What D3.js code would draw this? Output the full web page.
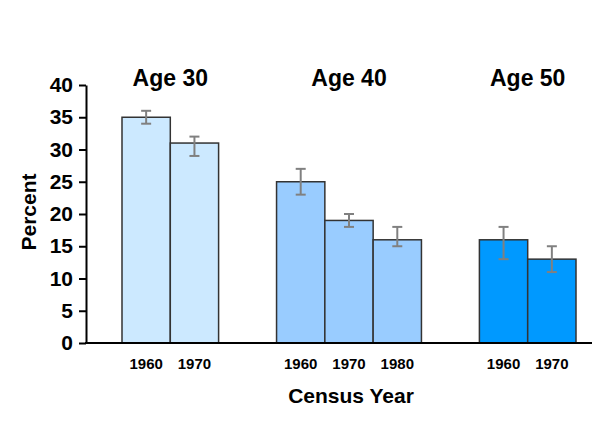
<!DOCTYPE html>
<html>
<head>
<meta charset="utf-8">
<script src="https://cdn.jsdelivr.net/npm/d3@7"></script>
<style>
  body { margin: 0; background: #fff; }
  text { font-family: Arial, "Liberation Sans", sans-serif; font-weight: bold; fill: #000; }
</style>
</head>
<body>
<div id="chart"></div>
<script>
var width = 600,
    height = 428;

// data
var groups = ["Age 30", "Age 40", "Age 50"];
var groupColors = ["#cce9ff", "#99ccff", "#0099ff"];
var years = [["1960", "1970"], ["1960", "1970", "1980"], ["1960", "1970"]];
var values = [[35, 31], [25, 19, 16], [16, 13]];
var errLow = [[34, 29], [23, 18, 15], [13, 11]];
var errHigh = [[36, 32], [27, 20, 18], [18, 15]];
var yTicks = [0, 5, 10, 15, 20, 25, 30, 35, 40];

var gapUnits = 1.2; // space between groups, in bar widths

// flatten into bars with a slot position (in bar units)
var bars = [];
var slot = 0;
groups.forEach(function(g, gi){
  years[gi].forEach(function(yr, i){
    bars.push({group: gi, year: yr, value: values[gi][i],
               lo: errLow[gi][i], hi: errHigh[gi][i], slot: slot});
    slot += 1;
  });
  if (gi < groups.length - 1) slot += gapUnits;
});
var totalUnits = slot;

var svg = d3.select("#chart").append("svg")
    .attr("width", width)
    .attr("height", height);

var x = d3.scaleLinear()
    .domain([0, totalUnits])
    .range([122, 576]);

var y = d3.scaleLinear()
    .domain([0, 40])
    .range([343, 85]);

var bw = x(1) - x(0);

// bars
svg.selectAll(".bar")
    .data(bars)
  .enter().append("rect")
    .attr("class", "bar")
    .attr("x", function(d){ return x(d.slot); })
    .attr("y", function(d){ return y(d.value); })
    .attr("width", bw)
    .attr("height", function(d){ return y(0) - y(d.value); })
    .attr("fill", function(d){ return groupColors[d.group]; })
    .attr("stroke", "#333")
    .attr("stroke-width", 1.5);

// error bars
var err = svg.selectAll(".err")
    .data(bars)
  .enter().append("g")
    .attr("class", "err")
    .attr("stroke", "#808080")
    .attr("stroke-width", 2);

err.append("line")
    .attr("x1", function(d){ return x(d.slot + 0.5); })
    .attr("x2", function(d){ return x(d.slot + 0.5); })
    .attr("y1", function(d){ return y(d.lo); })
    .attr("y2", function(d){ return y(d.hi); });

err.selectAll(".cap")
    .data(function(d){ return [[d, d.lo], [d, d.hi]]; })
  .enter().append("line")
    .attr("x1", function(p){ return x(p[0].slot + 0.5) - 5; })
    .attr("x2", function(p){ return x(p[0].slot + 0.5) + 5; })
    .attr("y1", function(p){ return y(p[1]); })
    .attr("y2", function(p){ return y(p[1]); });

// year labels
svg.selectAll(".year")
    .data(bars)
  .enter().append("text")
    .attr("class", "year")
    .attr("x", function(d){ return x(d.slot + 0.5); })
    .attr("y", 369)
    .attr("text-anchor", "middle")
    .style("font-size", "15px")
    .text(function(d){ return d.year; });

// group titles
svg.selectAll(".gtitle")
    .data(groups)
  .enter().append("text")
    .attr("class", "gtitle")
    .attr("x", function(g, gi){
      var b = bars.filter(function(d){ return d.group === gi; });
      return (x(b[0].slot) + x(b[b.length - 1].slot + 1)) / 2;
    })
    .attr("y", 86)
    .attr("text-anchor", "middle")
    .style("font-size", "23px")
    .text(function(g){ return g; });

// y axis
var yAxis = svg.append("g")
    .attr("transform", "translate(86,0)")
    .call(d3.axisLeft(y).tickValues(yTicks).tickSize(7).tickPadding(6).tickSizeOuter(0));

yAxis.select(".domain").attr("stroke", "#000").attr("stroke-width", 2);
yAxis.selectAll(".tick line").attr("stroke", "#000").attr("stroke-width", 2);
yAxis.selectAll(".tick text")
    .style("font-size", "21px")
    .style("font-family", "Arial, 'Liberation Sans', sans-serif")
    .style("font-weight", "bold")
    .attr("fill", "#000");

// baseline
svg.append("line")
    .attr("x1", 85)
    .attr("x2", 592)
    .attr("y1", y(0))
    .attr("y2", y(0))
    .attr("stroke", "#000")
    .attr("stroke-width", 2);

// axis titles
svg.append("text")
    .attr("x", 351)
    .attr("y", 403)
    .attr("text-anchor", "middle")
    .style("font-size", "21px")
    .text("Census Year");

svg.append("text")
    .attr("transform", "translate(36,212) rotate(-90)")
    .attr("text-anchor", "middle")
    .style("font-size", "21px")
    .text("Percent");
</script>
</body>
</html>
